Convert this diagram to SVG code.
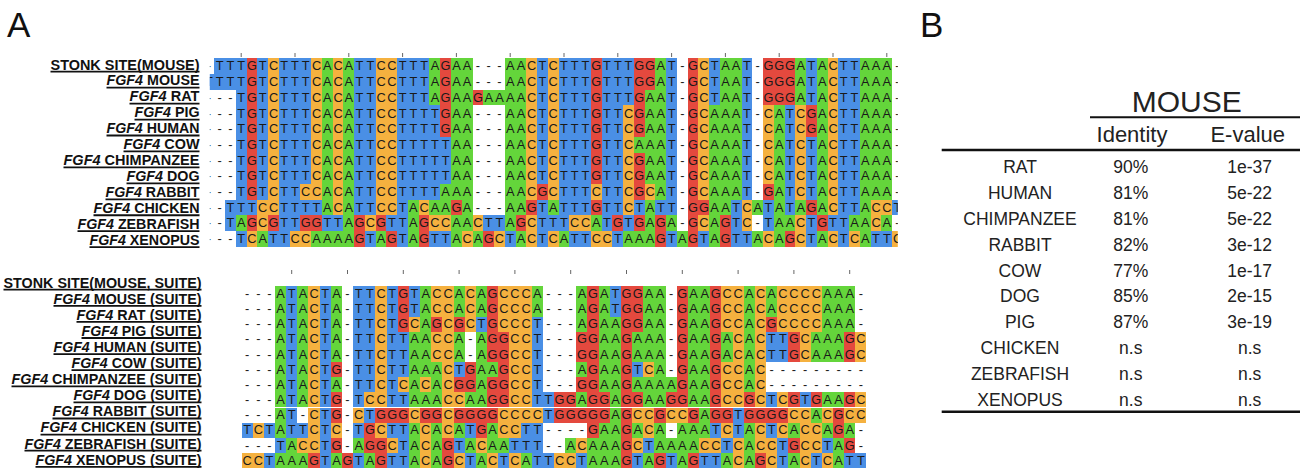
<svg xmlns="http://www.w3.org/2000/svg" width="1306" height="471" viewBox="0 0 1306 471">
<style>
.seq{font-family:"Liberation Sans",Arial,sans-serif;font-size:12.8px;fill:#1a1a1a;text-anchor:middle}
.lbl{font-family:"Liberation Sans",Arial,sans-serif;font-weight:bold;font-size:14px;fill:#111;text-anchor:end}
.it{font-style:italic}
.ul{stroke:#111;stroke-width:1.8;fill:none}
.tick{stroke:#666;stroke-width:1;fill:none}
.tb{font-family:"Liberation Sans",Arial,sans-serif;fill:#222;text-anchor:middle}
.rule{stroke:#111;fill:none}
.cells path{fill:none;stroke-width:1}
.a{stroke:#64d53b}.c{stroke:#f5b13f}.g{stroke:#e4493e}.t{stroke:#4a8fe5}
.pl{font-family:"Liberation Sans",Arial,sans-serif;font-size:35px;fill:#111}
</style>
<defs>
<clipPath id="ct"><rect x="209.8" y="40" width="688" height="215"/></clipPath>
</defs>
<rect width="1306" height="471" fill="#fff"/>
<text class="pl" x="7" y="37">A</text>
<text class="pl" x="920" y="37">B</text>

<g id="labels-top">
<text class="lbl" x="199.5" y="69.5" textLength="149" lengthAdjust="spacingAndGlyphs">STONK SITE(MOUSE)</text>
<text class="lbl" x="199.5" y="85.45" textLength="93" lengthAdjust="spacingAndGlyphs"><tspan class="it">FGF4</tspan> MOUSE</text>
<text class="lbl" x="199.5" y="101.4" textLength="70" lengthAdjust="spacingAndGlyphs"><tspan class="it">FGF4</tspan> RAT</text>
<text class="lbl" x="199.5" y="117.35" textLength="65" lengthAdjust="spacingAndGlyphs"><tspan class="it">FGF4</tspan> PIG</text>
<text class="lbl" x="199.5" y="133.3" textLength="93" lengthAdjust="spacingAndGlyphs"><tspan class="it">FGF4</tspan> HUMAN</text>
<text class="lbl" x="199.5" y="149.25" textLength="76" lengthAdjust="spacingAndGlyphs"><tspan class="it">FGF4</tspan> COW</text>
<text class="lbl" x="199.5" y="165.2" textLength="136" lengthAdjust="spacingAndGlyphs"><tspan class="it">FGF4</tspan> CHIMPANZEE</text>
<text class="lbl" x="199.5" y="181.15" textLength="73" lengthAdjust="spacingAndGlyphs"><tspan class="it">FGF4</tspan> DOG</text>
<text class="lbl" x="199.5" y="197.1" textLength="94" lengthAdjust="spacingAndGlyphs"><tspan class="it">FGF4</tspan> RABBIT</text>
<text class="lbl" x="199.5" y="213.05" textLength="106" lengthAdjust="spacingAndGlyphs"><tspan class="it">FGF4</tspan> CHICKEN</text>
<text class="lbl" x="199.5" y="229" textLength="122" lengthAdjust="spacingAndGlyphs"><tspan class="it">FGF4</tspan> ZEBRAFISH</text>
<text class="lbl" x="199.5" y="244.95" textLength="110" lengthAdjust="spacingAndGlyphs"><tspan class="it">FGF4</tspan> XENOPUS</text>
<path class="ul" d="M50.5 71.7h149M106.5 87.65h93M129.5 103.6h70M134.5 119.55h65M106.5 135.5h93M123.5 151.45h76M63.5 167.4h136M126.5 183.35h73M105.5 199.3h94M93.5 215.25h106M77.5 231.2h122M89.5 247.15h110"/>
</g>

<g id="labels-bottom">
<text class="lbl" x="201.5" y="287.5" textLength="198" lengthAdjust="spacingAndGlyphs">STONK SITE(MOUSE, SUITE)</text>
<text class="lbl" x="201.5" y="303.6" textLength="148" lengthAdjust="spacingAndGlyphs"><tspan class="it">FGF4</tspan> MOUSE (SUITE)</text>
<text class="lbl" x="201.5" y="319.7" textLength="125" lengthAdjust="spacingAndGlyphs"><tspan class="it">FGF4</tspan> RAT (SUITE)</text>
<text class="lbl" x="201.5" y="335.8" textLength="120" lengthAdjust="spacingAndGlyphs"><tspan class="it">FGF4</tspan> PIG (SUITE)</text>
<text class="lbl" x="201.5" y="351.9" textLength="148" lengthAdjust="spacingAndGlyphs"><tspan class="it">FGF4</tspan> HUMAN (SUITE)</text>
<text class="lbl" x="201.5" y="368" textLength="130" lengthAdjust="spacingAndGlyphs"><tspan class="it">FGF4</tspan> COW (SUITE)</text>
<text class="lbl" x="201.5" y="384.1" textLength="190" lengthAdjust="spacingAndGlyphs"><tspan class="it">FGF4</tspan> CHIMPANZEE (SUITE)</text>
<text class="lbl" x="201.5" y="400.2" textLength="128" lengthAdjust="spacingAndGlyphs"><tspan class="it">FGF4</tspan> DOG (SUITE)</text>
<text class="lbl" x="201.5" y="416.3" textLength="149" lengthAdjust="spacingAndGlyphs"><tspan class="it">FGF4</tspan> RABBIT (SUITE)</text>
<text class="lbl" x="201.5" y="432.4" textLength="161" lengthAdjust="spacingAndGlyphs"><tspan class="it">FGF4</tspan> CHICKEN (SUITE)</text>
<text class="lbl" x="201.5" y="448.5" textLength="177" lengthAdjust="spacingAndGlyphs"><tspan class="it">FGF4</tspan> ZEBRAFISH (SUITE)</text>
<text class="lbl" x="201.5" y="464.6" textLength="166" lengthAdjust="spacingAndGlyphs"><tspan class="it">FGF4</tspan> XENOPUS (SUITE)</text>
<path class="ul" d="M3.5 289.7h198M53.5 305.8h148M76.5 321.9h125M81.5 338h120M53.5 354.1h148M71.5 370.2h130M11.5 386.3h190M73.5 402.4h128M52.5 418.5h149M40.5 434.6h161M24.5 450.7h177M35.5 466.8h166"/>
</g>

<g id="alignment-top" clip-path="url(#ct)">
<path class="tick" d="M241.2 53v4M295 53v4M348.8 53v4M402.6 53v4M456.4 53v4M510.2 53v4M564 53v4M617.8 53v4M671.6 53v4M725.4 53v4M779.2 53v4M833 53v4M886.8 53v4"/>
<g class="cells" transform="translate(203.52 58.3) scale(10.76 15.7)" shape-rendering="crispEdges">
<g>
<path class="t" d="M1 .5h3M5 .5h1M7 .5h3M14 .5h2M18 .5h3M31 .5h1M33 .5h3M37 .5h3M43 .5h1M47 .5h1M50 .5h1M56 .5h1M59 .5h2"/>
<path class="a" d="M11 .5h1M13 .5h1M21 .5h1M23 .5h2M28 .5h2M42 .5h1M48 .5h2M55 .5h1M57 .5h1M61 .5h3"/>
<path class="c" d="M6 .5h1M10 .5h1M12 .5h1M16 .5h2M30 .5h1M32 .5h1M46 .5h1M58 .5h1"/>
<path class="g" d="M4 .5h1M22 .5h1M36 .5h1M40 .5h2M45 .5h1M52 .5h3"/>
</g>
<g transform="translate(0 1)">
<path class="t" d="M0 .5h4M5 .5h1M7 .5h3M14 .5h2M18 .5h3M31 .5h1M33 .5h3M37 .5h3M43 .5h1M47 .5h1M50 .5h1M56 .5h1M59 .5h2"/>
<path class="a" d="M11 .5h1M13 .5h1M21 .5h1M23 .5h2M28 .5h2M42 .5h1M48 .5h2M55 .5h1M57 .5h1M61 .5h3"/>
<path class="c" d="M6 .5h1M10 .5h1M12 .5h1M16 .5h2M30 .5h1M32 .5h1M46 .5h1M58 .5h1"/>
<path class="g" d="M4 .5h1M22 .5h1M36 .5h1M40 .5h2M45 .5h1M52 .5h3"/>
</g>
<g transform="translate(0 2)">
<path class="t" d="M3 .5h1M5 .5h1M7 .5h3M14 .5h2M18 .5h3M31 .5h1M33 .5h3M37 .5h3M43 .5h1M47 .5h1M50 .5h1M56 .5h1M59 .5h2"/>
<path class="a" d="M11 .5h1M13 .5h1M21 .5h1M23 .5h2M26 .5h4M41 .5h2M48 .5h2M55 .5h1M57 .5h1M61 .5h3"/>
<path class="c" d="M6 .5h1M10 .5h1M12 .5h1M16 .5h2M30 .5h1M32 .5h1M46 .5h1M58 .5h1"/>
<path class="g" d="M4 .5h1M22 .5h1M25 .5h1M36 .5h1M40 .5h1M45 .5h1M52 .5h3"/>
</g>
<g transform="translate(0 3)">
<path class="t" d="M3 .5h1M5 .5h1M7 .5h3M14 .5h2M18 .5h4M31 .5h1M33 .5h3M37 .5h2M43 .5h1M50 .5h1M54 .5h1M59 .5h2"/>
<path class="a" d="M11 .5h1M13 .5h1M23 .5h2M28 .5h2M41 .5h2M47 .5h3M53 .5h1M57 .5h1M61 .5h3"/>
<path class="c" d="M6 .5h1M10 .5h1M12 .5h1M16 .5h2M30 .5h1M32 .5h1M39 .5h1M46 .5h1M52 .5h1M55 .5h1M58 .5h1"/>
<path class="g" d="M4 .5h1M22 .5h1M36 .5h1M40 .5h1M45 .5h1M56 .5h1"/>
</g>
<g transform="translate(0 4)">
<path class="t" d="M3 .5h1M5 .5h1M7 .5h3M14 .5h2M18 .5h4M31 .5h1M33 .5h3M37 .5h2M43 .5h1M50 .5h1M54 .5h1M59 .5h2"/>
<path class="a" d="M11 .5h1M13 .5h1M23 .5h2M28 .5h2M41 .5h2M47 .5h3M53 .5h1M57 .5h1M61 .5h3"/>
<path class="c" d="M6 .5h1M10 .5h1M12 .5h1M16 .5h2M30 .5h1M32 .5h1M39 .5h1M46 .5h1M52 .5h1M55 .5h1M58 .5h1"/>
<path class="g" d="M4 .5h1M22 .5h1M36 .5h1M40 .5h1M45 .5h1M56 .5h1"/>
</g>
<g transform="translate(0 5)">
<path class="t" d="M3 .5h1M5 .5h1M7 .5h3M14 .5h2M18 .5h5M31 .5h1M33 .5h3M37 .5h2M43 .5h1M50 .5h1M54 .5h1M56 .5h1M59 .5h2"/>
<path class="a" d="M11 .5h1M13 .5h1M23 .5h2M28 .5h2M40 .5h3M47 .5h3M53 .5h1M57 .5h1M61 .5h3"/>
<path class="c" d="M6 .5h1M10 .5h1M12 .5h1M16 .5h2M30 .5h1M32 .5h1M39 .5h1M46 .5h1M52 .5h1M55 .5h1M58 .5h1"/>
<path class="g" d="M4 .5h1M36 .5h1M45 .5h1"/>
</g>
<g transform="translate(0 6)">
<path class="t" d="M3 .5h1M5 .5h1M7 .5h3M14 .5h2M18 .5h5M31 .5h1M33 .5h3M37 .5h2M43 .5h1M50 .5h1M54 .5h1M56 .5h1M59 .5h2"/>
<path class="a" d="M11 .5h1M13 .5h1M23 .5h2M28 .5h2M41 .5h2M47 .5h3M53 .5h1M57 .5h1M61 .5h3"/>
<path class="c" d="M6 .5h1M10 .5h1M12 .5h1M16 .5h2M30 .5h1M32 .5h1M39 .5h1M46 .5h1M52 .5h1M55 .5h1M58 .5h1"/>
<path class="g" d="M4 .5h1M36 .5h1M40 .5h1M45 .5h1"/>
</g>
<g transform="translate(0 7)">
<path class="t" d="M3 .5h1M5 .5h1M7 .5h3M14 .5h2M18 .5h5M31 .5h1M33 .5h3M37 .5h2M43 .5h1M50 .5h1M54 .5h1M56 .5h1M59 .5h2"/>
<path class="a" d="M11 .5h1M13 .5h1M23 .5h2M28 .5h2M41 .5h2M47 .5h3M53 .5h1M57 .5h1M61 .5h3"/>
<path class="c" d="M6 .5h1M10 .5h1M12 .5h1M16 .5h2M30 .5h1M32 .5h1M39 .5h1M46 .5h1M52 .5h1M55 .5h1M58 .5h1"/>
<path class="g" d="M4 .5h1M36 .5h1M40 .5h1M45 .5h1"/>
</g>
<g transform="translate(0 8)">
<path class="t" d="M3 .5h1M5 .5h1M7 .5h2M14 .5h2M18 .5h4M33 .5h3M37 .5h2M43 .5h1M50 .5h1M54 .5h1M56 .5h1M59 .5h2"/>
<path class="a" d="M11 .5h1M13 .5h1M22 .5h3M28 .5h2M42 .5h1M47 .5h3M53 .5h1M57 .5h1M61 .5h3"/>
<path class="c" d="M6 .5h1M9 .5h2M12 .5h1M16 .5h2M30 .5h1M32 .5h1M36 .5h1M39 .5h1M41 .5h1M46 .5h1M55 .5h1M58 .5h1"/>
<path class="g" d="M4 .5h1M31 .5h1M40 .5h1M45 .5h1M52 .5h1"/>
</g>
<g transform="translate(0 9)">
<path class="t" d="M2 .5h3M7 .5h4M14 .5h2M18 .5h1M31 .5h1M33 .5h3M37 .5h2M40 .5h1M42 .5h2M49 .5h1M52 .5h1M54 .5h1M59 .5h2M64 .5h1"/>
<path class="a" d="M11 .5h1M13 .5h1M19 .5h1M21 .5h2M24 .5h1M28 .5h2M32 .5h1M41 .5h1M47 .5h2M51 .5h1M53 .5h1M55 .5h1M57 .5h1M61 .5h1"/>
<path class="c" d="M5 .5h2M12 .5h1M16 .5h2M20 .5h1M39 .5h1M50 .5h1M58 .5h1M62 .5h2"/>
<path class="g" d="M23 .5h1M30 .5h1M36 .5h1M45 .5h2M56 .5h1"/>
</g>
<g transform="translate(0 10)">
<path class="t" d="M2 .5h1M7 .5h2M11 .5h2M17 .5h2M26 .5h2M31 .5h3M37 .5h1M39 .5h1M49 .5h1M52 .5h1M56 .5h1M58 .5h2"/>
<path class="a" d="M3 .5h1M13 .5h1M19 .5h1M23 .5h2M28 .5h1M36 .5h1M41 .5h1M43 .5h1M47 .5h1M53 .5h2M60 .5h2M63 .5h1"/>
<path class="c" d="M5 .5h1M15 .5h1M21 .5h2M25 .5h1M30 .5h1M34 .5h2M46 .5h1M50 .5h1M55 .5h1M62 .5h1"/>
<path class="g" d="M4 .5h1M6 .5h1M9 .5h2M14 .5h1M16 .5h1M20 .5h1M29 .5h1M38 .5h1M40 .5h1M42 .5h1M45 .5h1M48 .5h1M57 .5h1"/>
</g>
<g transform="translate(0 11)">
<path class="t" d="M3 .5h1M6 .5h2M15 .5h1M18 .5h1M21 .5h2M28 .5h1M31 .5h1M34 .5h2M38 .5h1M43 .5h1M46 .5h1M49 .5h2M56 .5h1M59 .5h1M62 .5h2"/>
<path class="a" d="M5 .5h1M10 .5h4M16 .5h1M19 .5h1M23 .5h1M25 .5h1M29 .5h1M33 .5h1M39 .5h3M44 .5h1M47 .5h1M51 .5h1M53 .5h1M57 .5h1M61 .5h1"/>
<path class="c" d="M4 .5h1M8 .5h2M24 .5h1M27 .5h1M30 .5h1M32 .5h1M36 .5h2M52 .5h1M55 .5h1M58 .5h1M60 .5h1M64 .5h1"/>
<path class="g" d="M14 .5h1M17 .5h1M20 .5h1M26 .5h1M42 .5h1M45 .5h1M48 .5h1M54 .5h1"/>
</g>
</g>
<g id="seq-top">
<text class="seq" y="70.4" x="208.9 219.7 230.4 241.2 251.9 262.7 273.5 284.2 295 305.7 316.5 327.3 338 348.8 359.5 370.3 381.1 391.8 402.6 413.3 424.1 434.9 445.6 456.4 467.1 477.9 488.7 499.4 510.2 520.9 531.7 542.5 553.2 564 574.7 585.5 596.3 607 617.8 628.5 639.3 650.1 660.8 671.6 682.3 693.1 703.9 714.6 725.4 736.1 746.9 757.7 768.4 779.2 789.9 800.7 811.5 822.2 833 843.7 854.5 865.3 876 886.8 897.5">-TTTGTCTTTCACATTCCTTTAGAA---AACTCTTTGTTTGGAT-GCTAAT-GGGATACTTAAA-</text>
<text class="seq" y="86.1" x="208.9 219.7 230.4 241.2 251.9 262.7 273.5 284.2 295 305.7 316.5 327.3 338 348.8 359.5 370.3 381.1 391.8 402.6 413.3 424.1 434.9 445.6 456.4 467.1 477.9 488.7 499.4 510.2 520.9 531.7 542.5 553.2 564 574.7 585.5 596.3 607 617.8 628.5 639.3 650.1 660.8 671.6 682.3 693.1 703.9 714.6 725.4 736.1 746.9 757.7 768.4 779.2 789.9 800.7 811.5 822.2 833 843.7 854.5 865.3 876 886.8 897.5">TTTTGTCTTTCACATTCCTTTAGAA---AACTCTTTGTTTGGAT-GCTAAT-GGGATACTTAAA-</text>
<text class="seq" y="101.8" x="208.9 219.7 230.4 241.2 251.9 262.7 273.5 284.2 295 305.7 316.5 327.3 338 348.8 359.5 370.3 381.1 391.8 402.6 413.3 424.1 434.9 445.6 456.4 467.1 477.9 488.7 499.4 510.2 520.9 531.7 542.5 553.2 564 574.7 585.5 596.3 607 617.8 628.5 639.3 650.1 660.8 671.6 682.3 693.1 703.9 714.6 725.4 736.1 746.9 757.7 768.4 779.2 789.9 800.7 811.5 822.2 833 843.7 854.5 865.3 876 886.8 897.5">---TGTCTTTCACATTCCTTTAGAAGAAAACTCTTTGTTTGAAT-GCTAAT-GGGATACTTAAA-</text>
<text class="seq" y="117.5" x="208.9 219.7 230.4 241.2 251.9 262.7 273.5 284.2 295 305.7 316.5 327.3 338 348.8 359.5 370.3 381.1 391.8 402.6 413.3 424.1 434.9 445.6 456.4 467.1 477.9 488.7 499.4 510.2 520.9 531.7 542.5 553.2 564 574.7 585.5 596.3 607 617.8 628.5 639.3 650.1 660.8 671.6 682.3 693.1 703.9 714.6 725.4 736.1 746.9 757.7 768.4 779.2 789.9 800.7 811.5 822.2 833 843.7 854.5 865.3 876 886.8 897.5">---TGTCTTTCACATTCCTTTTGAA---AACTCTTTGTTCGAAT-GCAAAT-CATCGACTTAAA-</text>
<text class="seq" y="133.2" x="208.9 219.7 230.4 241.2 251.9 262.7 273.5 284.2 295 305.7 316.5 327.3 338 348.8 359.5 370.3 381.1 391.8 402.6 413.3 424.1 434.9 445.6 456.4 467.1 477.9 488.7 499.4 510.2 520.9 531.7 542.5 553.2 564 574.7 585.5 596.3 607 617.8 628.5 639.3 650.1 660.8 671.6 682.3 693.1 703.9 714.6 725.4 736.1 746.9 757.7 768.4 779.2 789.9 800.7 811.5 822.2 833 843.7 854.5 865.3 876 886.8 897.5">---TGTCTTTCACATTCCTTTTGAA---AACTCTTTGTTCGAAT-GCAAAT-CATCGACTTAAA-</text>
<text class="seq" y="148.9" x="208.9 219.7 230.4 241.2 251.9 262.7 273.5 284.2 295 305.7 316.5 327.3 338 348.8 359.5 370.3 381.1 391.8 402.6 413.3 424.1 434.9 445.6 456.4 467.1 477.9 488.7 499.4 510.2 520.9 531.7 542.5 553.2 564 574.7 585.5 596.3 607 617.8 628.5 639.3 650.1 660.8 671.6 682.3 693.1 703.9 714.6 725.4 736.1 746.9 757.7 768.4 779.2 789.9 800.7 811.5 822.2 833 843.7 854.5 865.3 876 886.8 897.5">---TGTCTTTCACATTCCTTTTTAA---AACTCTTTGTTCAAAT-GCAAAT-CATCTACTTAAA-</text>
<text class="seq" y="164.6" x="208.9 219.7 230.4 241.2 251.9 262.7 273.5 284.2 295 305.7 316.5 327.3 338 348.8 359.5 370.3 381.1 391.8 402.6 413.3 424.1 434.9 445.6 456.4 467.1 477.9 488.7 499.4 510.2 520.9 531.7 542.5 553.2 564 574.7 585.5 596.3 607 617.8 628.5 639.3 650.1 660.8 671.6 682.3 693.1 703.9 714.6 725.4 736.1 746.9 757.7 768.4 779.2 789.9 800.7 811.5 822.2 833 843.7 854.5 865.3 876 886.8 897.5">---TGTCTTTCACATTCCTTTTTAA---AACTCTTTGTTCGAAT-GCAAAT-CATCTACTTAAA-</text>
<text class="seq" y="180.3" x="208.9 219.7 230.4 241.2 251.9 262.7 273.5 284.2 295 305.7 316.5 327.3 338 348.8 359.5 370.3 381.1 391.8 402.6 413.3 424.1 434.9 445.6 456.4 467.1 477.9 488.7 499.4 510.2 520.9 531.7 542.5 553.2 564 574.7 585.5 596.3 607 617.8 628.5 639.3 650.1 660.8 671.6 682.3 693.1 703.9 714.6 725.4 736.1 746.9 757.7 768.4 779.2 789.9 800.7 811.5 822.2 833 843.7 854.5 865.3 876 886.8 897.5">---TGTCTTTCACATTCCTTTTTAA---AACTCTTTGTTCGAAT-GCAAAT-CATCTACTTAAA-</text>
<text class="seq" y="196" x="208.9 219.7 230.4 241.2 251.9 262.7 273.5 284.2 295 305.7 316.5 327.3 338 348.8 359.5 370.3 381.1 391.8 402.6 413.3 424.1 434.9 445.6 456.4 467.1 477.9 488.7 499.4 510.2 520.9 531.7 542.5 553.2 564 574.7 585.5 596.3 607 617.8 628.5 639.3 650.1 660.8 671.6 682.3 693.1 703.9 714.6 725.4 736.1 746.9 757.7 768.4 779.2 789.9 800.7 811.5 822.2 833 843.7 854.5 865.3 876 886.8 897.5">---TGTCTTCCACATTCCTTTTAAA---AACGCTTTCTTCGCAT-GCAAAT-GATCTACTTAAA-</text>
<text class="seq" y="211.7" x="208.9 219.7 230.4 241.2 251.9 262.7 273.5 284.2 295 305.7 316.5 327.3 338 348.8 359.5 370.3 381.1 391.8 402.6 413.3 424.1 434.9 445.6 456.4 467.1 477.9 488.7 499.4 510.2 520.9 531.7 542.5 553.2 564 574.7 585.5 596.3 607 617.8 628.5 639.3 650.1 660.8 671.6 682.3 693.1 703.9 714.6 725.4 736.1 746.9 757.7 768.4 779.2 789.9 800.7 811.5 822.2 833 843.7 854.5 865.3 876 886.8 897.5">--TTTCCTTTTACATTCCTACAAGA---AAGTATTTGTTCTATT-GGAATCATATAGACTTACCT</text>
<text class="seq" y="227.4" x="208.9 219.7 230.4 241.2 251.9 262.7 273.5 284.2 295 305.7 316.5 327.3 338 348.8 359.5 370.3 381.1 391.8 402.6 413.3 424.1 434.9 445.6 456.4 467.1 477.9 488.7 499.4 510.2 520.9 531.7 542.5 553.2 564 574.7 585.5 596.3 607 617.8 628.5 639.3 650.1 660.8 671.6 682.3 693.1 703.9 714.6 725.4 736.1 746.9 757.7 768.4 779.2 789.9 800.7 811.5 822.2 833 843.7 854.5 865.3 876 886.8 897.5">--TAGCGTTGGTTAGCGTTAGCCAACTTAGCTTTCCATGTGAGA-GCAGTC-TAACTGTTAACA-</text>
<text class="seq" y="243.1" x="208.9 219.7 230.4 241.2 251.9 262.7 273.5 284.2 295 305.7 316.5 327.3 338 348.8 359.5 370.3 381.1 391.8 402.6 413.3 424.1 434.9 445.6 456.4 467.1 477.9 488.7 499.4 510.2 520.9 531.7 542.5 553.2 564 574.7 585.5 596.3 607 617.8 628.5 639.3 650.1 660.8 671.6 682.3 693.1 703.9 714.6 725.4 736.1 746.9 757.7 768.4 779.2 789.9 800.7 811.5 822.2 833 843.7 854.5 865.3 876 886.8 897.5">---TCATTCCAAAAGTAGTAGTTACAGCTACTCATTCCTAAAGTAGTAGTTACAGCTACTCATTC</text>
</g>
</g>

<g id="alignment-bottom">
<path class="tick" d="M291.7 270v4M347.5 270v4M403.3 270v4M459.1 270v4M514.9 270v4M570.7 270v4M626.5 270v4M682.3 270v4M738.1 270v4M793.9 270v4M849.7 270v4"/>
<g class="cells" transform="translate(241.52 286.3) scale(11.16 15.15)" shape-rendering="crispEdges">
<g>
<path class="t" d="M4 .5h1M7 .5h1M10 .5h2M13 .5h1M15 .5h1M33 .5h1"/>
<path class="a" d="M3 .5h1M5 .5h1M8 .5h1M16 .5h1M19 .5h1M21 .5h1M26 .5h1M30 .5h1M32 .5h1M36 .5h2M40 .5h2M45 .5h1M47 .5h1M52 .5h3"/>
<path class="c" d="M6 .5h1M12 .5h1M17 .5h2M20 .5h1M23 .5h3M43 .5h2M46 .5h1M48 .5h4"/>
<path class="g" d="M14 .5h1M22 .5h1M31 .5h1M34 .5h2M39 .5h1M42 .5h1"/>
</g>
<g transform="translate(0 1)">
<path class="t" d="M4 .5h1M7 .5h1M10 .5h2M13 .5h1M15 .5h1M33 .5h1"/>
<path class="a" d="M3 .5h1M5 .5h1M8 .5h1M16 .5h1M19 .5h1M21 .5h1M26 .5h1M30 .5h1M32 .5h1M36 .5h2M40 .5h2M45 .5h1M47 .5h1M52 .5h3"/>
<path class="c" d="M6 .5h1M12 .5h1M17 .5h2M20 .5h1M23 .5h3M43 .5h2M46 .5h1M48 .5h4"/>
<path class="g" d="M14 .5h1M22 .5h1M31 .5h1M34 .5h2M39 .5h1M42 .5h1"/>
</g>
<g transform="translate(0 2)">
<path class="t" d="M4 .5h1M7 .5h1M10 .5h2M13 .5h1M21 .5h1M26 .5h1"/>
<path class="a" d="M3 .5h1M5 .5h1M8 .5h1M16 .5h1M30 .5h1M32 .5h2M36 .5h2M40 .5h2M45 .5h1M52 .5h3"/>
<path class="c" d="M6 .5h1M12 .5h1M15 .5h1M18 .5h1M20 .5h1M23 .5h3M43 .5h2M46 .5h1M48 .5h4"/>
<path class="g" d="M14 .5h1M17 .5h1M19 .5h1M22 .5h1M31 .5h1M34 .5h2M39 .5h1M42 .5h1M47 .5h1"/>
</g>
<g transform="translate(0 3)">
<path class="t" d="M4 .5h1M7 .5h1M10 .5h2M13 .5h2M26 .5h1M47 .5h2"/>
<path class="a" d="M3 .5h1M5 .5h1M8 .5h1M15 .5h2M19 .5h1M21 .5h1M32 .5h2M35 .5h3M40 .5h2M43 .5h1M45 .5h1M51 .5h3"/>
<path class="c" d="M6 .5h1M12 .5h1M17 .5h2M24 .5h2M44 .5h1M46 .5h1M50 .5h1M55 .5h1"/>
<path class="g" d="M22 .5h2M30 .5h2M34 .5h1M39 .5h1M42 .5h1M49 .5h1M54 .5h1"/>
</g>
<g transform="translate(0 4)">
<path class="t" d="M4 .5h1M7 .5h1M10 .5h2M13 .5h2M26 .5h1M47 .5h2"/>
<path class="a" d="M3 .5h1M5 .5h1M8 .5h1M15 .5h2M19 .5h1M21 .5h1M32 .5h2M35 .5h3M40 .5h2M43 .5h1M45 .5h1M51 .5h3"/>
<path class="c" d="M6 .5h1M12 .5h1M17 .5h2M24 .5h2M44 .5h1M46 .5h1M50 .5h1M55 .5h1"/>
<path class="g" d="M22 .5h2M30 .5h2M34 .5h1M39 .5h1M42 .5h1M49 .5h1M54 .5h1"/>
</g>
<g transform="translate(0 5)">
<path class="t" d="M4 .5h1M7 .5h1M10 .5h2M13 .5h2M19 .5h1M26 .5h1M35 .5h1"/>
<path class="a" d="M3 .5h1M5 .5h1M15 .5h3M21 .5h2M30 .5h1M32 .5h2M37 .5h1M40 .5h2M45 .5h1"/>
<path class="c" d="M6 .5h1M12 .5h1M18 .5h1M24 .5h2M36 .5h1M43 .5h2M46 .5h1"/>
<path class="g" d="M8 .5h1M20 .5h1M23 .5h1M31 .5h1M34 .5h1M39 .5h1M42 .5h1"/>
</g>
<g transform="translate(0 6)">
<path class="t" d="M4 .5h1M7 .5h1M10 .5h2M13 .5h1M26 .5h1"/>
<path class="a" d="M3 .5h1M5 .5h1M8 .5h1M15 .5h1M17 .5h1M21 .5h1M32 .5h2M35 .5h4M40 .5h2M45 .5h1"/>
<path class="c" d="M6 .5h1M12 .5h1M14 .5h1M16 .5h1M18 .5h1M24 .5h2M43 .5h2M46 .5h1"/>
<path class="g" d="M19 .5h2M22 .5h2M30 .5h2M34 .5h1M39 .5h1M42 .5h1"/>
</g>
<g transform="translate(0 7)">
<path class="t" d="M4 .5h1M7 .5h1M10 .5h1M13 .5h2M26 .5h2M47 .5h1M50 .5h1"/>
<path class="a" d="M3 .5h1M5 .5h1M15 .5h3M20 .5h2M30 .5h1M33 .5h1M36 .5h2M40 .5h2M52 .5h2"/>
<path class="c" d="M6 .5h1M11 .5h2M18 .5h2M24 .5h2M43 .5h2M46 .5h1M48 .5h1M55 .5h1"/>
<path class="g" d="M8 .5h1M22 .5h2M28 .5h2M31 .5h2M34 .5h2M38 .5h2M42 .5h1M45 .5h1M49 .5h1M51 .5h1M54 .5h1"/>
</g>
<g transform="translate(0 8)">
<path class="t" d="M4 .5h1M7 .5h1M11 .5h1M27 .5h1M44 .5h1"/>
<path class="a" d="M3 .5h1M33 .5h1M41 .5h1M51 .5h1"/>
<path class="c" d="M6 .5h1M10 .5h1M15 .5h1M18 .5h1M23 .5h4M35 .5h2M38 .5h2M49 .5h2M52 .5h1M54 .5h2"/>
<path class="g" d="M8 .5h1M12 .5h3M16 .5h2M19 .5h4M28 .5h5M34 .5h1M37 .5h1M40 .5h1M42 .5h2M45 .5h4M53 .5h1"/>
</g>
<g transform="translate(0 9)">
<path class="t" d="M0 .5h1M2 .5h1M4 .5h2M7 .5h1M10 .5h1M13 .5h2M20 .5h1M25 .5h2M42 .5h1M44 .5h1M47 .5h1"/>
<path class="a" d="M3 .5h1M15 .5h1M17 .5h1M19 .5h1M22 .5h1M32 .5h2M35 .5h1M37 .5h1M39 .5h3M45 .5h1M49 .5h1M52 .5h1M54 .5h1"/>
<path class="c" d="M1 .5h1M6 .5h1M8 .5h1M12 .5h1M16 .5h1M18 .5h1M23 .5h2M36 .5h1M43 .5h1M46 .5h1M48 .5h1M50 .5h2"/>
<path class="g" d="M11 .5h1M21 .5h1M31 .5h1M34 .5h1M53 .5h1"/>
</g>
<g transform="translate(0 10)">
<path class="t" d="M3 .5h1M7 .5h1M14 .5h1M19 .5h1M24 .5h3M36 .5h1M43 .5h1M48 .5h1M52 .5h1"/>
<path class="a" d="M4 .5h1M10 .5h1M15 .5h1M17 .5h1M20 .5h1M22 .5h2M29 .5h1M31 .5h3M37 .5h4M45 .5h1M53 .5h1"/>
<path class="c" d="M5 .5h2M13 .5h1M16 .5h1M21 .5h1M30 .5h1M35 .5h1M41 .5h2M44 .5h1M46 .5h2M50 .5h2"/>
<path class="g" d="M8 .5h1M11 .5h2M18 .5h1M34 .5h1M49 .5h1M54 .5h1"/>
</g>
<g transform="translate(0 11)">
<path class="t" d="M2 .5h1M7 .5h1M10 .5h1M13 .5h2M20 .5h1M23 .5h1M26 .5h2M30 .5h1M35 .5h1M38 .5h1M41 .5h2M48 .5h1M51 .5h1M54 .5h2"/>
<path class="a" d="M3 .5h3M8 .5h1M11 .5h1M15 .5h1M17 .5h1M21 .5h1M25 .5h1M31 .5h3M36 .5h1M39 .5h1M43 .5h1M45 .5h1M49 .5h1M53 .5h1"/>
<path class="c" d="M0 .5h2M16 .5h1M19 .5h1M22 .5h1M24 .5h1M28 .5h2M44 .5h1M47 .5h1M50 .5h1M52 .5h1"/>
<path class="g" d="M6 .5h1M9 .5h1M12 .5h1M18 .5h1M34 .5h1M37 .5h1M40 .5h1M46 .5h1"/>
</g>
</g>
<g id="seq-bottom">
<text class="seq" y="298" x="247.1 258.3 269.4 280.6 291.7 302.9 314.1 325.2 336.4 347.5 358.7 369.9 381 392.2 403.3 414.5 425.7 436.8 448 459.1 470.3 481.5 492.6 503.8 514.9 526.1 537.3 548.4 559.6 570.7 581.9 593.1 604.2 615.4 626.5 637.7 648.9 660 671.2 682.3 693.5 704.7 715.8 727 738.1 749.3 760.5 771.6 782.8 793.9 805.1 816.3 827.4 838.6 849.7 860.9">---ATACTA-TTCTGTACCACAGCCCA---AGATGGAA-GAAGCCACACCCCAAA-</text>
<text class="seq" y="313.15" x="247.1 258.3 269.4 280.6 291.7 302.9 314.1 325.2 336.4 347.5 358.7 369.9 381 392.2 403.3 414.5 425.7 436.8 448 459.1 470.3 481.5 492.6 503.8 514.9 526.1 537.3 548.4 559.6 570.7 581.9 593.1 604.2 615.4 626.5 637.7 648.9 660 671.2 682.3 693.5 704.7 715.8 727 738.1 749.3 760.5 771.6 782.8 793.9 805.1 816.3 827.4 838.6 849.7 860.9">---ATACTA-TTCTGTACCACAGCCCA---AGATGGAA-GAAGCCACACCCCAAA-</text>
<text class="seq" y="328.3" x="247.1 258.3 269.4 280.6 291.7 302.9 314.1 325.2 336.4 347.5 358.7 369.9 381 392.2 403.3 414.5 425.7 436.8 448 459.1 470.3 481.5 492.6 503.8 514.9 526.1 537.3 548.4 559.6 570.7 581.9 593.1 604.2 615.4 626.5 637.7 648.9 660 671.2 682.3 693.5 704.7 715.8 727 738.1 749.3 760.5 771.6 782.8 793.9 805.1 816.3 827.4 838.6 849.7 860.9">---ATACTA-TTCTGCAGCGCTGCCCT---AGAAGGAA-GAAGCCACGCCCCAAA-</text>
<text class="seq" y="343.45" x="247.1 258.3 269.4 280.6 291.7 302.9 314.1 325.2 336.4 347.5 358.7 369.9 381 392.2 403.3 414.5 425.7 436.8 448 459.1 470.3 481.5 492.6 503.8 514.9 526.1 537.3 548.4 559.6 570.7 581.9 593.1 604.2 615.4 626.5 637.7 648.9 660 671.2 682.3 693.5 704.7 715.8 727 738.1 749.3 760.5 771.6 782.8 793.9 805.1 816.3 827.4 838.6 849.7 860.9">---ATACTA-TTCTTAACCA-AGGCCT---GGAAGAAA-GAAGACACTTGCAAAGC</text>
<text class="seq" y="358.6" x="247.1 258.3 269.4 280.6 291.7 302.9 314.1 325.2 336.4 347.5 358.7 369.9 381 392.2 403.3 414.5 425.7 436.8 448 459.1 470.3 481.5 492.6 503.8 514.9 526.1 537.3 548.4 559.6 570.7 581.9 593.1 604.2 615.4 626.5 637.7 648.9 660 671.2 682.3 693.5 704.7 715.8 727 738.1 749.3 760.5 771.6 782.8 793.9 805.1 816.3 827.4 838.6 849.7 860.9">---ATACTA-TTCTTAACCA-AGGCCT---GGAAGAAA-GAAGACACTTGCAAAGC</text>
<text class="seq" y="373.75" x="247.1 258.3 269.4 280.6 291.7 302.9 314.1 325.2 336.4 347.5 358.7 369.9 381 392.2 403.3 414.5 425.7 436.8 448 459.1 470.3 481.5 492.6 503.8 514.9 526.1 537.3 548.4 559.6 570.7 581.9 593.1 604.2 615.4 626.5 637.7 648.9 660 671.2 682.3 693.5 704.7 715.8 727 738.1 749.3 760.5 771.6 782.8 793.9 805.1 816.3 827.4 838.6 849.7 860.9">---ATACTG-TTCTTAAACTGAAGCCT---AGAAGTCA-GAAGCCAC---------</text>
<text class="seq" y="388.9" x="247.1 258.3 269.4 280.6 291.7 302.9 314.1 325.2 336.4 347.5 358.7 369.9 381 392.2 403.3 414.5 425.7 436.8 448 459.1 470.3 481.5 492.6 503.8 514.9 526.1 537.3 548.4 559.6 570.7 581.9 593.1 604.2 615.4 626.5 637.7 648.9 660 671.2 682.3 693.5 704.7 715.8 727 738.1 749.3 760.5 771.6 782.8 793.9 805.1 816.3 827.4 838.6 849.7 860.9">---ATACTA-TTCTCACACGGAGGCCT---GGAAGAAAAGAAGCCAC---------</text>
<text class="seq" y="404.05" x="247.1 258.3 269.4 280.6 291.7 302.9 314.1 325.2 336.4 347.5 358.7 369.9 381 392.2 403.3 414.5 425.7 436.8 448 459.1 470.3 481.5 492.6 503.8 514.9 526.1 537.3 548.4 559.6 570.7 581.9 593.1 604.2 615.4 626.5 637.7 648.9 660 671.2 682.3 693.5 704.7 715.8 727 738.1 749.3 760.5 771.6 782.8 793.9 805.1 816.3 827.4 838.6 849.7 860.9">---ATACTG-TCCTTAAACCAAGGCCTTGGAGGAGGAAGGAAGCCGCTCGTGAAGC</text>
<text class="seq" y="419.2" x="247.1 258.3 269.4 280.6 291.7 302.9 314.1 325.2 336.4 347.5 358.7 369.9 381 392.2 403.3 414.5 425.7 436.8 448 459.1 470.3 481.5 492.6 503.8 514.9 526.1 537.3 548.4 559.6 570.7 581.9 593.1 604.2 615.4 626.5 637.7 648.9 660 671.2 682.3 693.5 704.7 715.8 727 738.1 749.3 760.5 771.6 782.8 793.9 805.1 816.3 827.4 838.6 849.7 860.9">---AT-CTG-CTGGGCGGCGGGGCCCCTGGGGGAGCCGCCGAGGTGGGGCCACGCC</text>
<text class="seq" y="434.35" x="247.1 258.3 269.4 280.6 291.7 302.9 314.1 325.2 336.4 347.5 358.7 369.9 381 392.2 403.3 414.5 425.7 436.8 448 459.1 470.3 481.5 492.6 503.8 514.9 526.1 537.3 548.4 559.6 570.7 581.9 593.1 604.2 615.4 626.5 637.7 648.9 660 671.2 682.3 693.5 704.7 715.8 727 738.1 749.3 760.5 771.6 782.8 793.9 805.1 816.3 827.4 838.6 849.7 860.9">TCTATTCTC-TGCTTACACATGACCTT----GAAGACA-AAATCTACTCACCAGA-</text>
<text class="seq" y="449.5" x="247.1 258.3 269.4 280.6 291.7 302.9 314.1 325.2 336.4 347.5 358.7 369.9 381 392.2 403.3 414.5 425.7 436.8 448 459.1 470.3 481.5 492.6 503.8 514.9 526.1 537.3 548.4 559.6 570.7 581.9 593.1 604.2 615.4 626.5 637.7 648.9 660 671.2 682.3 693.5 704.7 715.8 727 738.1 749.3 760.5 771.6 782.8 793.9 805.1 816.3 827.4 838.6 849.7 860.9">---TACCTG-AGGCTACAGTACAATTT--ACAAAGCTAAAACCTCACCTGCCTAG-</text>
<text class="seq" y="464.65" x="247.1 258.3 269.4 280.6 291.7 302.9 314.1 325.2 336.4 347.5 358.7 369.9 381 392.2 403.3 414.5 425.7 436.8 448 459.1 470.3 481.5 492.6 503.8 514.9 526.1 537.3 548.4 559.6 570.7 581.9 593.1 604.2 615.4 626.5 637.7 648.9 660 671.2 682.3 693.5 704.7 715.8 727 738.1 749.3 760.5 771.6 782.8 793.9 805.1 816.3 827.4 838.6 849.7 860.9">CCTAAAGTAGTAGTTACAGCTACTCATTCCTAAAGTAGTAGTTACAGCTACTCATT</text>
</g>
</g>

<g id="table">
<text class="tb" x="1186.7" y="111.7" font-size="30">MOUSE</text>
<path class="rule" stroke-width="2" d="M1090 117.3H1300"/>
<text class="tb" x="1132" y="141.7" font-size="22">Identity</text>
<text class="tb" x="1247.7" y="141.7" font-size="22">E-value</text>
<path class="rule" stroke-width="2.5" d="M941.7 150H1300"/>
<g font-size="17.5">
<text class="tb" x="1020" y="173.3">RAT</text><text class="tb" x="1130.8" y="173.3">90%</text><text class="tb" x="1249.7" y="173.3">1e-37</text>
<text class="tb" x="1020" y="199.1">HUMAN</text><text class="tb" x="1130.8" y="199.1">81%</text><text class="tb" x="1249.7" y="199.1">5e-22</text>
<text class="tb" x="1020" y="224.9">CHIMPANZEE</text><text class="tb" x="1130.8" y="224.9">81%</text><text class="tb" x="1249.7" y="224.9">5e-22</text>
<text class="tb" x="1020" y="250.7">RABBIT</text><text class="tb" x="1130.8" y="250.7">82%</text><text class="tb" x="1249.7" y="250.7">3e-12</text>
<text class="tb" x="1020" y="276.5">COW</text><text class="tb" x="1130.8" y="276.5">77%</text><text class="tb" x="1249.7" y="276.5">1e-17</text>
<text class="tb" x="1020" y="302.3">DOG</text><text class="tb" x="1130.8" y="302.3">85%</text><text class="tb" x="1249.7" y="302.3">2e-15</text>
<text class="tb" x="1020" y="328.1">PIG</text><text class="tb" x="1130.8" y="328.1">87%</text><text class="tb" x="1249.7" y="328.1">3e-19</text>
<text class="tb" x="1020" y="353.9">CHICKEN</text><text class="tb" x="1130.8" y="353.9">n.s</text><text class="tb" x="1249.7" y="353.9">n.s</text>
<text class="tb" x="1020" y="379.7">ZEBRAFISH</text><text class="tb" x="1130.8" y="379.7">n.s</text><text class="tb" x="1249.7" y="379.7">n.s</text>
<text class="tb" x="1020" y="405.5">XENOPUS</text><text class="tb" x="1130.8" y="405.5">n.s</text><text class="tb" x="1249.7" y="405.5">n.s</text>
</g>
<path class="rule" stroke-width="2.5" d="M941.7 411.7H1300"/>
</g>
</svg>
